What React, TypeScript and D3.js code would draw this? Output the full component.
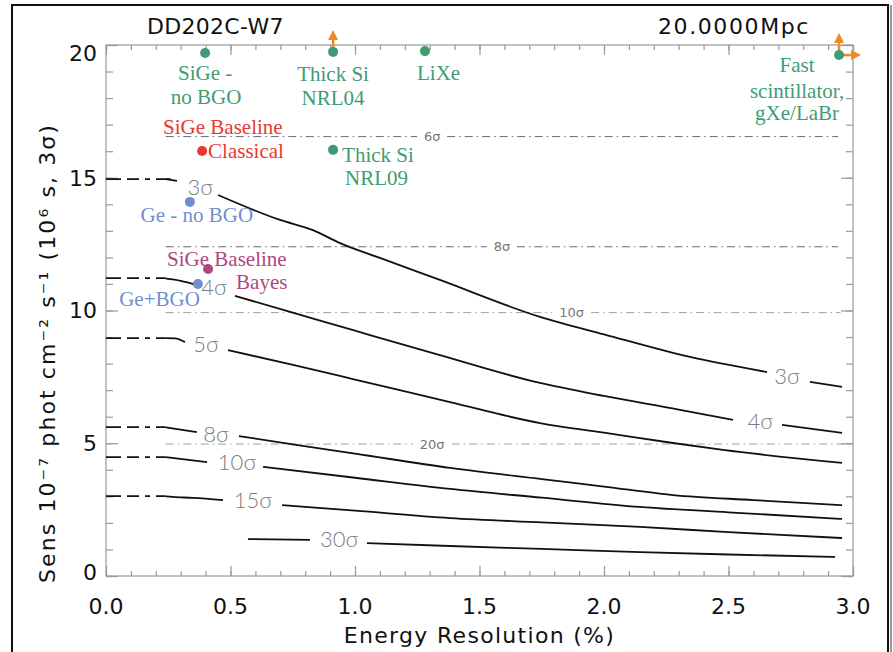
import React, { useRef, useEffect } from 'react';
import * as d3 from 'd3';

// axis ticks
const xMajorTicks = [0, 0.5, 1.0, 1.5, 2.0, 2.5, 3.0];
const yMajorTicks = [0, 5, 10, 15, 20];

// sensitivity contours: [energy resolution (%), sensitivity]; null = gap for the label
const sig3Dash = [[0, 14.95], [0.26, 14.95]];
const sig3 = [[0.24, 14.95], [0.285, 14.88], [0.37, null], [0.45, 14.35], [0.699, 13.41], [0.831, 13.03],
  [0.94, 12.54], [1.1, 11.98], [1.341, 11.15], [1.743, 9.76], [2.0, 9.1], [2.345, 8.25], [2.655, 7.68],
  [2.74, null], [2.827, 7.31], [2.956, 7.12]];
const sig4Dash = [[0, 11.22], [0.24, 11.22]];
const sig4 = [[0.24, 11.2], [0.3, 11.12], [0.365, 10.96], [0.44, null], [0.518, 10.55], [0.75, 9.92],
  [1.0, 9.24], [1.341, 8.32], [1.743, 7.27], [2.0, 6.78], [2.3, 6.27], [2.518, 5.88], [2.62, null],
  [2.715, 5.69], [2.956, 5.39]];
const sig5Dash = [[0, 8.96], [0.24, 8.96]];
const sig5 = [[0.24, 8.96], [0.277, 8.95], [0.317, 8.81], [0.4, null], [0.49, 8.51], [0.751, 7.95],
  [1.0, 7.4], [1.382, 6.55], [1.743, 5.76], [2.0, 5.4], [2.277, 5.01], [2.478, 4.75], [2.956, 4.26]];
const sig8Dash = [[0, 5.61], [0.24, 5.61]];
const sig8 = [[0.24, 5.6], [0.365, 5.42], [0.45, null], [0.534, 5.27], [0.75, 4.96], [1.0, 4.61],
  [1.382, 4.07], [1.75, 3.65], [2.0, 3.37], [2.277, 3.05], [2.6, 2.86], [2.956, 2.67]];
const sig10Dash = [[0, 4.48], [0.24, 4.48]];
const sig10 = [[0.24, 4.48], [0.406, 4.29], [0.52, null], [0.631, 4.11], [1.0, 3.7], [1.382, 3.28],
  [1.75, 2.95], [2.145, 2.6], [2.5, 2.4], [2.956, 2.15]];
const sig15Dash = [[0, 3.01], [0.24, 3.01]];
const sig15 = [[0.24, 3.0], [0.269, 2.98], [0.349, 2.94], [0.47, 2.86], [0.59, null], [0.707, 2.67],
  [1.0, 2.46], [1.382, 2.18], [1.75, 2.02], [2.145, 1.85], [2.5, 1.65], [2.956, 1.43]];
const sig30 = [[0.57, 1.39], [0.819, 1.36], [0.93, null], [1.048, 1.24], [1.382, 1.13], [1.75, 1.02],
  [2.145, 0.9], [2.5, 0.81], [2.928, 0.72]];

const contourSolid = [sig3, sig4, sig5, sig8, sig10, sig15, sig30];
const contourDash = [sig3Dash, sig4Dash, sig5Dash, sig8Dash, sig10Dash, sig15Dash];

// contour labels: text, [x, sensitivity] of the label centre
const contourLabelText = ['3σ', '3σ', '4σ', '4σ', '5σ', '8σ', '10σ', '15σ', '30σ'];
const contourLabelPos = [[0.378, 14.65], [2.735, 7.53], [0.434, 10.88], [2.627, 5.84], [0.402, 8.74],
  [0.442, 5.35], [0.526, 4.29], [0.59, 2.86], [0.936, 1.39]];

// horizontal significance levels
const levelNames = ['6σ', '8σ', '10σ', '20σ'];
const levelValues = [16.55, 12.4, 9.92, 4.97];
const levelLabelX = [1.31, 1.59, 1.87, 1.31];
const levelStart = 0.24;
const levelEnd = [2.94, 2.94, 2.95, 3.0];

// detector concepts
const pointNames = ['SiGe - no BGO', 'Thick Si NRL04', 'LiXe', 'Fast scintillator, gXe/LaBr',
  'SiGe Baseline Classical', 'Thick Si NRL09', 'Ge - no BGO', 'SiGe Baseline Bayes', 'Ge+BGO'];
const pointX = [0.398, 0.912, 1.281, 2.944, 0.386, 0.912, 0.337, 0.41, 0.369];
const pointY = [19.7, 19.74, 19.77, 19.62, 16.01, 16.05, 14.09, 11.56, 11.0];
const pointGroup = ['green', 'green', 'green', 'green', 'red', 'green', 'blue', 'magenta', 'blue'];
const pointArrows = [[], ['up'], [], ['up', 'right'], [], [], [], [], []];

const colors = { green: '#3f9b72', red: '#e8392e', blue: '#6f8fcf', magenta: '#b0467f' };
const arrowColor = '#f08a24';

// label lines for each point: [text, dx, dy, anchor] (pixels from the marker)
const pointLabels = [
  [['SiGe -', 0, 27, 'middle'], ['no BGO', 1, 51, 'middle']],
  [['Thick Si', 0, 29, 'middle'], ['NRL04', 0, 53, 'middle']],
  [['LiXe', -8, 29, 'start']],
  [['Fast', -42, 17, 'middle'], ['scintillator,', -42, 43, 'middle'], ['gXe/LaBr', -42, 65, 'middle']],
  [['SiGe Baseline', -39, -17, 'start'], ['Classical', 6, 7, 'start']],
  [['Thick Si', 9, 12, 'start'], ['NRL09', 12, 35, 'start']],
  [['Ge - no BGO', 7, 20, 'middle']],
  [['SiGe Baseline', -41, -3, 'start'], ['Bayes', 28, 20, 'start']],
  [['Ge+BGO', 2, 22, 'end']],
];

const SensitivityChart = () => {
  const svgRef = useRef(null);

  useEffect(() => {
    const width = 893;
    const height = 652;
    const svg = d3.select(svgRef.current).attr('width', width).attr('height', height);
    svg.selectAll('*').remove();

    const x = d3.scaleLinear().domain([0, 3]).range([106, 853]);
    const y = d3.scaleLinear().domain([0, 20]).range([576, 45]);
    const [x0, x1] = x.range();
    const [y0, y1] = y.range();
    const sans = 'DejaVu Sans, sans-serif';
    const serif = 'Liberation Serif, Times New Roman, serif';

    svg.append('rect').attr('width', width).attr('height', height).attr('fill', '#fff');

    // outer frame
    svg.append('rect')
      .attr('x', 12).attr('y', 5).attr('width', 876).attr('height', 700)
      .attr('fill', 'none').attr('stroke', '#111').attr('stroke-width', 2);
    svg.append('line').attr('x1', 891).attr('x2', 891).attr('y1', 5).attr('y2', height)
      .attr('stroke', '#333').attr('stroke-width', 1);

    // axes box
    const axisColor = '#9a9a9a';
    svg.append('rect')
      .attr('x', x0).attr('y', y1).attr('width', x1 - x0).attr('height', y0 - y1)
      .attr('fill', 'none').attr('stroke', axisColor).attr('stroke-width', 1.2);

    const addTicks = (axis, transform) => {
      const g = svg.append('g').attr('transform', transform).call(axis);
      g.select('.domain').remove();
      g.selectAll('.tick line').attr('stroke', axisColor).attr('stroke-width', 1.2);
      g.selectAll('text').remove();
    };
    const xMinor = x.ticks(30);
    const yMinor = y.ticks(20);
    addTicks(d3.axisBottom(x).tickValues(xMinor).tickSize(-5), `translate(0,${y0})`);
    addTicks(d3.axisBottom(x).tickValues(xMajorTicks).tickSize(-10), `translate(0,${y0})`);
    addTicks(d3.axisTop(x).tickValues(xMinor).tickSize(-5), `translate(0,${y1})`);
    addTicks(d3.axisTop(x).tickValues(xMajorTicks).tickSize(-10), `translate(0,${y1})`);
    addTicks(d3.axisLeft(y).tickValues(yMinor).tickSize(-7), `translate(${x0},0)`);
    addTicks(d3.axisLeft(y).tickValues(yMajorTicks).tickSize(-12), `translate(${x0},0)`);
    addTicks(d3.axisRight(y).tickValues(yMinor).tickSize(-7), `translate(${x1},0)`);
    addTicks(d3.axisRight(y).tickValues(yMajorTicks).tickSize(-12), `translate(${x1},0)`);

    // tick labels
    svg.append('g').selectAll('text')
      .data(xMajorTicks)
      .enter()
      .append('text')
      .attr('x', d => x(d))
      .attr('y', 614)
      .attr('text-anchor', 'middle')
      .attr('font-family', sans)
      .attr('font-size', 22)
      .attr('fill', '#111')
      .text(d3.format('.1f'));

    svg.append('g').selectAll('text')
      .data(yMajorTicks)
      .enter()
      .append('text')
      .attr('x', 97)
      .attr('y', d => Math.min(Math.max(y(d), y1 + 8), y0 - 4))
      .attr('dy', '0.36em')
      .attr('text-anchor', 'end')
      .attr('font-family', sans)
      .attr('font-size', 22)
      .attr('fill', '#111')
      .text(d => d);

    // axis titles
    svg.append('text')
      .attr('x', (x0 + x1) / 2)
      .attr('y', 643)
      .attr('text-anchor', 'middle')
      .attr('font-family', sans)
      .attr('font-size', 22)
      .attr('letter-spacing', 1.3)
      .attr('fill', '#111')
      .text('Energy Resolution (%)');

    svg.append('text')
      .attr('transform', 'translate(55,353) rotate(-90)')
      .attr('text-anchor', 'middle')
      .attr('font-family', sans)
      .attr('font-size', 22)
      .attr('letter-spacing', 2.1)
      .attr('fill', '#111')
      .text('Sens 10⁻⁷ phot cm⁻² s⁻¹ (10⁶ s, 3σ)');

    // top titles
    svg.append('text')
      .attr('x', 147).attr('y', 34)
      .attr('font-family', sans).attr('font-size', 22).attr('letter-spacing', 0.3)
      .attr('fill', '#111')
      .text('DD202C-W7');
    svg.append('text')
      .attr('x', 810).attr('y', 34)
      .attr('text-anchor', 'end')
      .attr('font-family', sans).attr('font-size', 22).attr('letter-spacing', 1.6)
      .attr('fill', '#111')
      .text('20.0000Mpc');

    // horizontal significance levels, broken around their labels
    levelValues.forEach((v, i) => {
      const shade = i < 2 ? '#6a6a6a' : '#a0a0a0';
      const half = levelNames[i].length * 4.5 + 6;
      const lx = x(levelLabelX[i]);
      const segs = [[x(levelStart), lx - half], [lx + half, x(levelEnd[i])]];
      segs.forEach(([a, b]) => {
        svg.append('line')
          .attr('x1', a).attr('x2', b)
          .attr('y1', y(v)).attr('y2', y(v))
          .attr('stroke', shade)
          .attr('stroke-width', 1)
          .attr('stroke-dasharray', '8,4,1.5,4');
      });
      svg.append('text')
        .attr('x', lx).attr('y', y(v))
        .attr('dy', '0.36em')
        .attr('text-anchor', 'middle')
        .attr('font-family', sans)
        .attr('font-size', 13)
        .attr('fill', '#777')
        .text(levelNames[i]);
    });

    // contour curves
    const line = d3.line()
      .defined(d => d[1] !== null)
      .x(d => x(d[0]))
      .y(d => y(d[1]))
      .curve(d3.curveMonotoneX);

    contourDash.forEach(pts => {
      svg.append('path')
        .attr('d', line(pts))
        .attr('fill', 'none')
        .attr('stroke', '#111')
        .attr('stroke-width', 1.8)
        .attr('stroke-dasharray', '15,6,12,6,5,6');
    });

    contourSolid.forEach(pts => {
      svg.append('path')
        .attr('d', line(pts))
        .attr('fill', 'none')
        .attr('stroke', '#111')
        .attr('stroke-width', 1.8);
    });

    contourLabelPos.forEach((p, i) => {
      svg.append('text')
        .attr('x', x(p[0])).attr('y', y(p[1]))
        .attr('dy', '0.36em')
        .attr('text-anchor', 'middle')
        .attr('font-family', 'Lato, DejaVu Sans, sans-serif')
        .attr('font-weight', 300)
        .attr('font-size', 22)
        .attr('fill', '#7c7c7c')
        .text(contourLabelText[i]);
    });

    // detector concept markers with labels
    pointNames.forEach((name, i) => {
      const cx = x(pointX[i]);
      const cy = y(pointY[i]);
      const color = colors[pointGroup[i]];

      pointArrows[i].forEach(dir => {
        const ux = dir === 'right' ? 1 : 0;
        const uy = dir === 'up' ? -1 : 0;
        const tip = 22;
        const base = 12;
        svg.append('line')
          .attr('x1', cx).attr('y1', cy)
          .attr('x2', cx + ux * base).attr('y2', cy + uy * base)
          .attr('stroke', arrowColor).attr('stroke-width', 2.5);
        const px = -uy;
        const py = ux;
        const pts = [
          [cx + ux * tip, cy + uy * tip],
          [cx + ux * base + px * 5, cy + uy * base + py * 5],
          [cx + ux * base - px * 5, cy + uy * base - py * 5],
        ];
        svg.append('polygon')
          .attr('points', pts.map(p => p.join(',')).join(' '))
          .attr('fill', arrowColor);
      });

      svg.append('circle')
        .attr('cx', cx).attr('cy', cy).attr('r', 5)
        .attr('fill', color);

      pointLabels[i].forEach(([text, dx, dy, anchor]) => {
        svg.append('text')
          .attr('x', cx + dx).attr('y', cy + dy)
          .attr('text-anchor', anchor)
          .attr('font-family', serif)
          .attr('font-size', 21)
          .attr('fill', color)
          .text(text);
      });
    });
  }, []);

  return <svg ref={svgRef} style={{ display: 'block' }}></svg>;
};

export default function App() {
  return (
    <div style={{ position: 'absolute', left: 0, top: 0, background: '#fff' }}>
      <SensitivityChart />
    </div>
  );
}
